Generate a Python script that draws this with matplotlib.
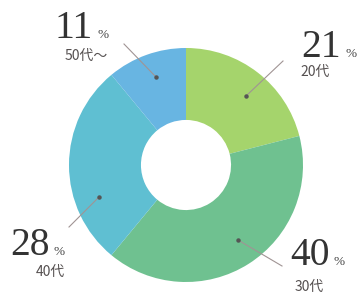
import matplotlib.pyplot as plt

# 年代別の割合
ages = ["20代", "30代", "40代", "50代～"]
shares = [21, 40, 28, 11]
colors = ["#a5d46c", "#6fc190", "#5fbfd2", "#68b5e2"]

W, H = 361, 293
CX, CY, R = 186, H - 165, 117

fig = plt.figure(figsize=(W / 100, H / 100), dpi=100)
ax = fig.add_axes([0, 0, 1, 1])
ax.pie(shares, colors=colors, startangle=90, counterclock=False,
       center=(CX, CY), radius=R,
       wedgeprops=dict(width=R * 0.615, linewidth=0))
ax.set_xlim(0, W)
ax.set_ylim(0, H)
ax.set_aspect("equal")
ax.axis("off")

# ラベル位置 (ピクセル, 上から) : 数字の中心x, ベースラインy
num_pos = [(321, 57), (310, 265), (30, 255), (74, 38)]
lab_pos = [(315, 72), (309, 287), (50, 272), (86, 56)]
line_pts = [((283, 61), (246, 96)), ((282, 266), (238, 240)),
            ((69, 227), (99, 197)), ((124, 44), (156, 77))]

for age, v, (nx, ny), (lx, ly), (p0, p1) in zip(ages, shares, num_pos, lab_pos, line_pts):
    ax.text(nx, H - ny, str(v), ha="center", va="baseline",
            fontsize=28.5, family="Liberation Serif", color="#333333")
    ax.text(nx + 24, H - ny, "%", ha="left", va="baseline",
            fontsize=9.5, family="Liberation Serif", color="#444444")
    ax.text(lx, H - ly, age, ha="center", va="center", fontsize=10,
            family=["Noto Sans CJK JP", "DejaVu Sans"], color="#555050")
    ax.plot([p0[0], p1[0]], [H - p0[1], H - p1[1]], color="#a09494", lw=0.8)
    ax.plot(p1[0], H - p1[1], "o", ms=2.2, color="#555555")

fig.savefig("out.png", dpi=100)
